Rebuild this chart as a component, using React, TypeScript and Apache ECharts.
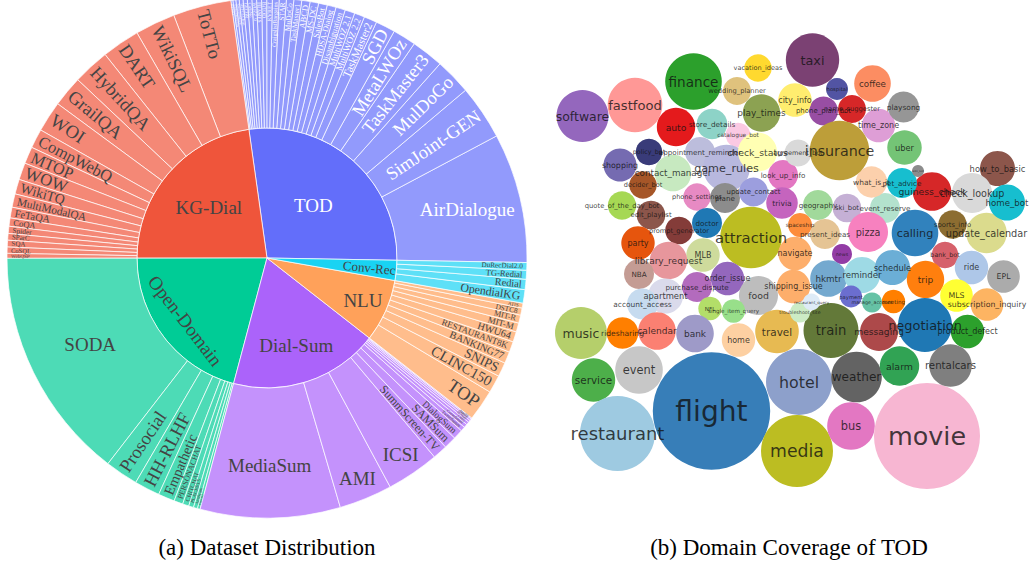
import React, { useEffect, useRef } from 'react';
import * as echarts from 'echarts';

// ---------------- Sunburst data (share of samples, in counter-clockwise order) ----------------
const groupNames = ['TOD', 'KG-Dial', 'Open-Domain', 'Dial-Sum', 'NLU', 'Conv-Rec'];

const todNames = ['AirDialogue', 'SimJoint-GEN', 'MulDoGo', 'TaskMaster3', 'MetaLWOz', 'SGD', 'TaskMaster2', 'MultiWOZ 2.2', 'MultiWOZ 2.1', 'Disambiguation', 'HDSA-Dialog', 'SalesBot', 'MS-DC', 'ABCD', 'TaskMaster1', 'MuDoCo', 'STAR', 'CraigslistBargains', 'KVRET', 'BiTOD', 'FRAMES', 'WOZ2_0', 'CaSiNo', 'GECOR', 'DSTC2-Clean', 'SimJointMovie', 'SimJointRestaurant', 'KETOD'];
const todValues = [29, 12.2, 8.1, 7.2, 5.2, 4.4, 2.9, 2.3, 2.2, 2.1, 2.0, 1.95, 1.9, 1.85, 1.75, 1.65, 1.6, 1.5, 1.25, 1.15, 1.1, 1.05, 1.0, 0.95, 0.85, 0.75, 0.65, 0.45];

const kgNames = ['ToTTo', 'WikiSQL', 'DART', 'HybridQA', 'GrailQA', 'WOI', 'CompWebQ', 'MTOP', 'WOW', 'WikiTQ', 'MultiModalQA', 'FeTaQA', 'CoQA', 'Spider', 'SParC', 'SQA', 'CoSQL', 'WebQSP'];
const kgValues = [13, 9, 8.5, 8.2, 6.9, 6.9, 4.3, 3.8, 3.8, 3.3, 3.0, 2.4, 1.85, 1.6, 1.5, 1.5, 1.4, 1.1];

const odNames = ['SODA', 'Prosocial', 'HH-RLHF', 'Empathetic', 'PERSONACHAT', 'CHITCHAT', 'PLACES3.5', 'AntiScam', 'ConvAI2'];
const odValues = [52.2, 7.4, 5.7, 3.7, 2.0, 1.4, 1.1, 0.9, 0.6];

const dsNames = ['MediaSum', 'AMI', 'ICSI', 'SummScreen-TV', 'SAMSum', 'DialogSum', 'TweetSumm', 'ConvoSumm', 'CRD3', 'ECTSum', 'QMSum', 'AnnoMI'];
const dsValues = [31.3, 11.9, 11.8, 3.3, 2.8, 2.2, 1.0, 0.8, 0.65, 0.5, 0.4, 0.25];

const nluNames = ['TOP', 'CLINC150', 'SNIPS', 'BANKING77', 'RESTAURANT8K', 'HWU64', 'MIT-M', 'MIT-R', 'DSTC8', 'ATIS'];
const nluValues = [7, 4, 3.2, 2.6, 2.4, 2.3, 2.0, 1.8, 1.6, 1.1];

const crNames = ['OpendialKG', 'Redial', 'TG-Redial', 'DuRecDial2.0'];
const crValues = [3, 2.3, 2.0, 1.7];

// ---------------- Bubble data (TOD domains) ----------------
const bubbleNames = ['software', 'fastfood', 'finance', 'auto', 'store_details', 'wedding_planner', 'vacation_ideas', 'play_times', 'catalogue_bot', 'policy_bot', 'appointment_reminder', 'shopping', 'contact_manager', 'game_rules', 'check_status', 'decider_bot', 'phone_settings', 'plane', 'update_contact', 'look_up_info', 'agreement_bot', 'trivia', 'geography', 'ski_bot', 'event_reserve', 'doctor', 'attraction', 'quote_of_the_day_bot', 'edit_playlist', 'prompt_generator', 'party', 'MLB', 'library_request', 'NBA', 'order_issue', 'purchase_dispute', 'food', 'apartment', 'account_access', 'NFL', 'single_item_query', 'music', 'ridesharing', 'calendar', 'bank', 'home', 'travel', 'shipping_issue', 'navigate', 'spaceship', 'present_ideas', 'pizza', 'news', 'hkmtr', 'reminder', 'schedule', 'calling', 'sports_info', 'update_calendar', 'bank_bot', 'ride', 'EPL', 'trip', 'MLS', 'subscription_inquiry', 'product_defect', 'negotiation', 'meeting', 'manage_account', 'payment', 'messaging', 'train', 'troubleshoot_site', 'restaurant_query', 'how_to_basic', 'guiness_check', 'check_lookup', 'home_bot', 'what_is_it', 'pet_advice', 'wiki_bot', 'uber', 'time_zone', 'playsong', 'coffee', 'taxi', 'hospital', 'name_suggester', 'phone_plan_bot', 'city_info', 'insurance', 'service', 'event', 'restaurant', 'flight', 'hotel', 'media', 'weather', 'bus', 'movie', 'alarm', 'rentalcars'];
const bubbleX = [582.5, 635, 693.5, 676, 712, 737, 758, 761.5, 738, 649, 700, 620, 673, 726.5, 757.5, 643, 697, 725, 753.5, 783, 798, 782, 818, 847, 885, 707, 751, 622, 651, 679, 638, 703, 668.5, 639, 727.5, 697, 758.5, 665.5, 642.5, 710, 733.5, 581, 622.5, 657, 695, 738.5, 777, 793.5, 795, 800, 825, 868, 842, 828.5, 862, 892.5, 915, 952.5, 986.5, 945, 971.5, 1003.5, 925.5, 956.5, 987, 967.5, 925, 893.5, 872, 851, 879, 831, 800, 811.5, 997.5, 932, 972, 1007, 871.5, 902, 918, 904.5, 878.5, 903.5, 872.5, 812.5, 837, 852, 823.5, 795, 839.5, 593.5, 639, 617.5, 711.5, 799, 797, 856.5, 851, 927, 899.5, 950.5];
const bubbleY = [116, 105, 81.5, 127, 124, 91, 68, 113, 135, 152, 152, 165, 173, 168, 152, 185, 197, 198, 192, 175, 153, 203, 205, 208, 208, 223, 237.5, 205.5, 215, 230.5, 243, 255, 260.5, 274, 278.5, 287, 295.5, 296, 304, 308.5, 311, 333, 333, 331, 333.5, 340, 331.5, 286.5, 253.5, 225, 234, 232, 254, 278.5, 275, 267.5, 233, 224.5, 233, 255, 267.5, 276.5, 279.5, 295.5, 304.5, 331.5, 325, 301.5, 302.5, 296.5, 332, 330.5, 312.5, 302, 168.5, 191.5, 193, 202.5, 182, 183, 171, 147.5, 125.5, 107, 83.5, 60, 89, 109, 111, 100, 150.5, 380, 370, 433.5, 411, 382, 451, 377, 426, 436, 366, 365.5];
const bubbleR = [26, 27.3, 28.3, 19.2, 15.3, 14, 13.7, 18.7, 12.3, 13.3, 15, 16.5, 18.3, 23.3, 19.5, 13.7, 13.7, 15, 14.5, 15, 13.5, 15.8, 15, 14.3, 15, 15, 30.8, 14.2, 14.3, 13.8, 16.7, 16.7, 18.7, 15, 16.7, 15, 19.5, 17.5, 15.5, 11.7, 11.7, 26, 15.8, 18.8, 18.8, 16.7, 21.8, 16.7, 16.7, 12, 15, 20, 10, 18.3, 18, 17.5, 23.3, 14.2, 20.3, 13.3, 16.7, 16.3, 18.7, 16.3, 16.3, 16.7, 27, 11.7, 10, 11, 19, 27.5, 10, 8.5, 17.5, 19.3, 20, 18, 15.7, 15, 6, 17.2, 16.7, 15.5, 18.3, 26.7, 11, 14, 14.5, 16.7, 29.7, 21.7, 23.8, 37.5, 58.7, 33, 36, 25.3, 23.8, 53, 19.7, 21.3];

// ---------------- Styles ----------------
const groupColors: Record<string, string> = {
  'TOD': '#636EFA', 'KG-Dial': '#EF553B', 'Open-Domain': '#00CC96',
  'Dial-Sum': '#AB63FA', 'NLU': '#FFA15A', 'Conv-Rec': '#19D3F3',
};
const bubbleColors = ['#9467bd', '#ff9896', '#2ca02c', '#e41a1c', '#8dd3c7', '#dfc27d', '#ffd92f', '#8ca252', '#fbc9e3', '#393b79', '#bcbddc', '#756bb1', '#c7e9c0', '#b8b8de', '#ffffb3', '#a65628', '#e78ac3', '#8c8c8c', '#9c9ede', '#e377c2', '#d9d9d9', '#c564be', '#a1d99b', '#c5b0d5', '#b3e2cd', '#1f78b4', '#bcbd22', '#a6d854', '#8c564b', '#843c39', '#e6550d', '#cedb9c', '#e7969c', '#c49c94', '#9467bd', '#b36bbd', '#bdbdbd', '#dadaeb', '#c6dbef', '#b3de69', '#98df8a', '#b5cf6b', '#ff7f00', '#fb8072', '#9e9ac8', '#fdd0a2', '#e7ba52', '#fdae6b', '#fdae6b', '#fd8d3c', '#e5c494', '#f781bf', '#923ca5', '#74a9cf', '#9edae5', '#6baed6', '#3182bd', '#8c6d31', '#dbdb8d', '#d6616b', '#aec7e8', '#ababab', '#ff7f0e', '#ffff33', '#fdb462', '#2ca02c', '#1f78b4', '#ff7f00', '#66c2a5', '#6b6ecf', '#ad494a', '#637939', '#ccebc5', '#deebf7', '#8c564b', '#d62728', '#d9d9d9', '#17becf', '#fcd0ac', '#17becf', '#8c8c8c', '#74c476', '#de9ed6', '#969696', '#fc8d62', '#7b4173', '#5254a3', '#d62728', '#984ea3', '#ffed6f', '#bd9e39', '#4daf4a', '#c7c7c7', '#9ecae1', '#377eb8', '#8da0cb', '#bcbd22', '#636363', '#e377c2', '#f7b6d2', '#31a354', '#7f7f7f'];

const CX = 267, CY = 258, R_IN = 130, R_OUT = 260, START_BEARING = 91;
const SERIF = 'Liberation Serif';

// horizontal labels: target radius of the text centre
const innerTargets: Record<string, number> = { 'KG-Dial': 77, 'TOD': 70, 'NLU': 105, 'Dial-Sum': 92, 'Open-Domain': 103 };
const outerHorizontal: Record<string, number> = { 'AirDialogue': 206, 'SODA': 197, 'MediaSum': 208, 'AMI': 238, 'ICSI': 238 };

function lighten(hex: string, a = 0.7) {
  const n = parseInt(hex.slice(1), 16);
  const r = (n >> 16) & 255, g = (n >> 8) & 255, b = n & 255;
  const m = (c: number) => Math.round(c * a + 255 * (1 - a));
  return `rgb(${m(r)},${m(g)},${m(b)})`;
}

function emWidth(s: string) {
  let w = 0;
  for (const ch of s) {
    if (/[A-Z]/.test(ch)) w += 0.68;
    else if (/[a-z]/.test(ch)) w += 0.45;
    else if (/[0-9]/.test(ch)) w += 0.5;
    else if (ch === ' ') w += 0.25;
    else w += 0.33;
  }
  return w;
}

function fitFont(name: string, angDeg: number) {
  const a = (angDeg * Math.PI) / 180;
  const w = emWidth(name);
  let f = (1.12 * 256 * a) / (1 + w * a);
  f = Math.min(f, 18.5, 120 / w);
  return Math.max(3, Math.round(f * 10) / 10);
}

// moves a label's text by dr along the bearing, given label rotation (deg):
// local x via asymmetric padding, local y via an empty line of suitable height
function shiftStyle(bearing: number, dr: number, rotDeg: number) {
  const b = (bearing * Math.PI) / 180;
  const sx = dr * Math.sin(b), sy = -dr * Math.cos(b);
  const t = (rotDeg * Math.PI) / 180;
  const lx = sx * Math.cos(t) - sy * Math.sin(t);
  const ly = sx * Math.sin(t) + sy * Math.cos(t);
  const out: any = { padding: [0, Math.max(0, -2 * lx), 0, Math.max(0, 2 * lx)] };
  if (Math.abs(ly) >= 1) {
    out.lineHeight = 2 * Math.abs(ly);
    out.formatter = ly > 0 ? '\n{b}' : '{b}\n';
  }
  return out;
}

function buildSunburst() {
  const groups = [
    { names: todNames, values: todValues },
    { names: kgNames, values: kgValues },
    { names: odNames, values: odValues },
    { names: dsNames, values: dsValues },
    { names: nluNames, values: nluValues },
    { names: crNames, values: crValues },
  ];
  const sum = (v: number[]) => v.reduce((a, b) => a + b, 0);
  const total = groups.reduce((a, g) => a + sum(g.values), 0);
  let cursor = START_BEARING;
  return groupNames.map((gName, gi) => {
    const g = groups[gi];
    const gAng = (sum(g.values) * 360) / total;
    const gMid = ((cursor - gAng / 2) % 360 + 360) % 360;
    const textColor = gName === 'TOD' ? '#ffffff' : '#444444';
    let c2 = cursor;
    cursor -= gAng;
    const children = g.names.map((n, i) => {
      const ang = (g.values[i] * 360) / total;
      const mid = ((c2 - ang / 2) % 360 + 360) % 360;
      c2 -= ang;
      let label: any;
      if (outerHorizontal[n] !== undefined) {
        label = {
          rotate: 0, align: 'center', fontSize: 19, color: textColor,
          ...shiftStyle(mid, outerHorizontal[n] - (R_IN + R_OUT) / 2, 0),
        };
      } else {
        label = { rotate: 'radial', align: 'right', distance: 4, fontSize: fitFont(n, ang), color: textColor };
      }
      return { name: n, value: g.values[i], itemStyle: { color: lighten(groupColors[gName]) }, label };
    });
    let label: any;
    if (gName === 'Conv-Rec') {
      label = { rotate: 'radial', align: 'right', distance: 1, fontSize: 13, color: textColor };
    } else if (gName === 'Open-Domain') {
      const rot = -(gMid - 180);
      label = { rotate: rot, align: 'center', fontSize: 19, color: textColor, ...shiftStyle(gMid, innerTargets[gName] - R_IN / 2, rot) };
    } else {
      label = { rotate: 0, align: 'center', fontSize: 19, color: textColor, ...shiftStyle(gMid, innerTargets[gName] - R_IN / 2, 0) };
    }
    return { name: gName, itemStyle: { color: groupColors[gName] }, label, children };
  });
}

export default function App() {
  const ref = useRef<HTMLDivElement>(null);
  useEffect(() => {
    if (!ref.current) return;
    const chart = echarts.init(ref.current, undefined, { renderer: 'svg' });
    const bubbleData = bubbleNames.map((n, i) => ({
      name: n, value: [bubbleX[i], bubbleY[i], bubbleR[i]], itemStyle: { color: bubbleColors[i] },
    }));
    const labelData = bubbleNames.map((n, i) => ({
      name: n, value: [bubbleX[i], bubbleY[i], bubbleR[i]], label: { fontSize: Math.max(2.5, bubbleR[i] * 0.48) },
    }));
    chart.setOption({
      animation: false,
      backgroundColor: '#ffffff',
      grid: { left: 0, right: 0, top: 0, bottom: 0, containLabel: false },
      xAxis: { type: 'value', min: 0, max: 1032, show: false },
      yAxis: { type: 'value', min: 0, max: 562, inverse: true, show: false },
      graphic: [
        { type: 'text', x: 267, y: 547, style: { text: '(a) Dataset Distribution', fontFamily: SERIF, fontSize: 23, fill: '#000', align: 'center', verticalAlign: 'middle' } },
        { type: 'text', x: 789, y: 547, style: { text: '(b) Domain Coverage of TOD', fontFamily: SERIF, fontSize: 23, fill: '#000', align: 'center', verticalAlign: 'middle' } },
      ],
      series: [
        {
          type: 'sunburst',
          center: [CX, CY],
          radius: [0, R_OUT],
          startAngle: 90 - START_BEARING,
          clockwise: false,
          sort: null,
          nodeClick: false,
          silent: true,
          data: buildSunburst(),
          levels: [{}, { r0: 0, r: R_IN }, { r0: R_IN, r: R_OUT }],
          itemStyle: { borderColor: 'rgba(255,255,255,0.7)', borderWidth: 1 },
          label: { fontFamily: SERIF, color: '#444' },
        },
        {
          type: 'scatter',
          data: bubbleData,
          symbol: 'circle',
          symbolSize: (v: number[]) => v[2] * 2,
          itemStyle: { opacity: 1 },
          silent: true,
          z: 2,
        },
        {
          type: 'scatter',
          data: labelData,
          symbol: 'circle',
          symbolSize: 1,
          itemStyle: { color: 'rgba(0,0,0,0)' },
          label: { show: true, position: 'inside', formatter: '{b}', color: '#111', fontFamily: 'DejaVu Sans' },
          silent: true,
          z: 3,
        },
      ],
    });
    return () => chart.dispose();
  }, []);
  return <div ref={ref} style={{ position: 'fixed', left: 0, top: 0, width: 1032, height: 562, background: '#fff' }} />;
}
